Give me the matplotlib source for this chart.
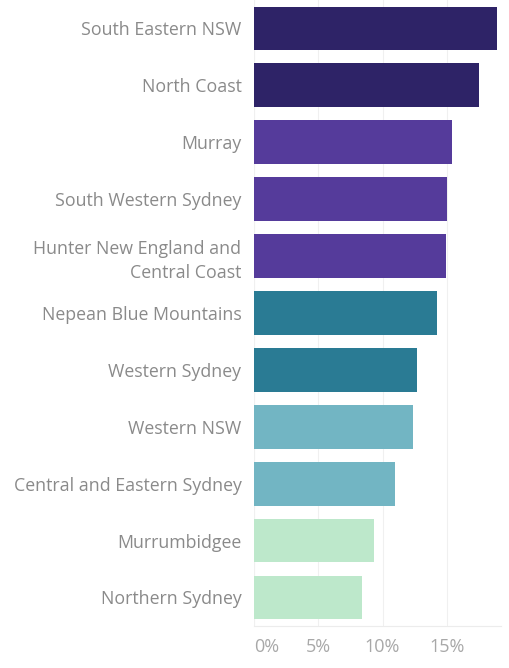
import matplotlib.pyplot as plt
import numpy as np

regions = ["South Eastern NSW", "North Coast", "Murray", "South Western Sydney",
           "Hunter New England and\nCentral Coast", "Nepean Blue Mountains",
           "Western Sydney", "Western NSW", "Central and Eastern Sydney",
           "Murrumbidgee", "Northern Sydney"]
values = [18.9, 17.5, 15.4, 15.0, 14.9, 14.2, 12.7, 12.4, 11.0, 9.3, 8.4]
colours = ["#2e2367", "#2e2367", "#553b9b", "#553b9b", "#553b9b",
           "#2a7b94", "#2a7b94", "#72b5c3", "#72b5c3", "#bde8cb", "#bde8cb"]
ticks = [0, 5, 10, 15]
tick_labels = ["0%", "5%", "10%", "15%"]

plt.rcParams['font.family'] = ['Open Sans', 'DejaVu Sans']

fig = plt.figure(figsize=(5.1, 6.68), dpi=100)
ax = fig.add_axes([0.498, 0.063, 0.484, 0.937])

y = np.arange(len(regions))
ax.barh(y, values, height=0.77, color=colours, zorder=2)
ax.set_ylim(len(regions) - 0.5, -0.5)
ax.set_xlim(0, 19.2)

ax.set_yticks(y)
ax.set_yticklabels(regions, fontsize=12.8, color="#8a8a8a", linespacing=1.4)
ax.set_xticks(ticks)
ax.set_xticklabels(tick_labels, fontsize=13, color="#a8a8a8")
ax.get_xticklabels()[0].set_horizontalalignment("left")
ax.tick_params(axis="y", length=0, pad=9)
ax.tick_params(axis="x", length=0, pad=9)

ax.grid(axis="x", color="#f0f0f0", linewidth=0.8, zorder=0)
for s in ["top", "right", "left"]:
    ax.spines[s].set_visible(False)
ax.spines["bottom"].set_color("#ececec")
ax.axvline(0, color="#f0f0f0", linewidth=0.8, zorder=0)

fig.savefig("out.png", dpi=100)
